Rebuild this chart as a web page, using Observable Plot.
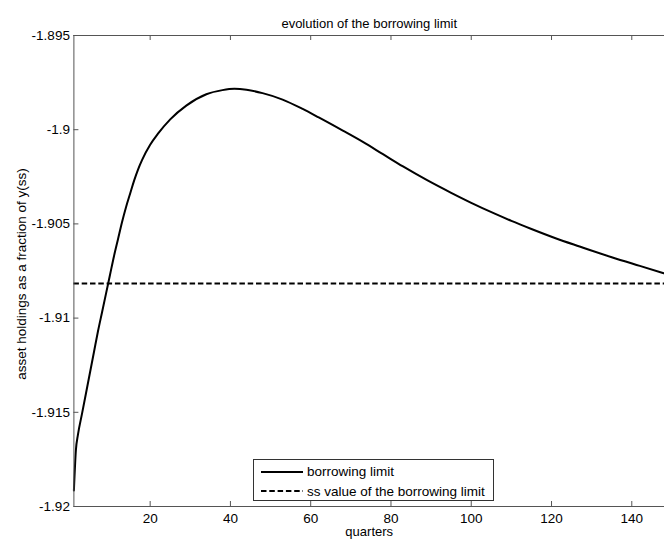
<!DOCTYPE html>
<html><head><meta charset="utf-8">
<script src="https://cdn.jsdelivr.net/npm/d3@7"></script>
<script src="https://cdn.jsdelivr.net/npm/@observablehq/plot@0.6"></script>
<style>
body{margin:0;background:#fff;}
#wrap{position:relative;width:664px;height:542px;font-family:"Liberation Sans",Arial,sans-serif;overflow:hidden;}
#legend{position:absolute;left:253px;top:459px;width:239px;height:40px;border:1px solid #333;background:#fff;}
#legend .row{position:absolute;left:0;height:18px;display:flex;align-items:center;font-size:13.5px;color:#000;white-space:nowrap;}
#legend svg{display:block;margin-left:7px;margin-right:4px;}
</style></head><body><div id="wrap"></div>
<script>
const quarters = [1, 1.5, 2, 3, 4, 5, 6, 7, 8, 9, 10, 11, 12, 13, 14, 15, 16, 17, 18, 20, 22, 25, 29, 34, 38, 41, 44, 48, 53, 58, 62, 68, 73, 78, 83, 89, 95, 100, 106, 110, 115, 121, 127, 135, 142, 148];
const borrowingLimit = [-1.91915, -1.9170, -1.9162, -1.9151, -1.9140, -1.9129, -1.9118, -1.9107, -1.9097, -1.9087, -1.9077, -1.9067, -1.9058, -1.9049, -1.9041, -1.9034, -1.9027, -1.9021, -1.9016, -1.9008, -1.9002, -1.89945, -1.89872, -1.89812, -1.8979, -1.89783, -1.89788, -1.89806, -1.8984, -1.8989, -1.89935, -1.90005, -1.90065, -1.9013, -1.90195, -1.90268, -1.90335, -1.90388, -1.90447, -1.90484, -1.90527, -1.90576, -1.9062, -1.90677, -1.90723, -1.90762];
const ssValue = -1.90816;
const xTicks = [20, 40, 60, 80, 100, 120, 140];
const xTickLabels = ["20", "40", "60", "80", "100", "120", "140"];
const yTicks = [-1.92, -1.915, -1.91, -1.905, -1.9, -1.895];
const yTickLabels = ["-1.92", "-1.915", "-1.91", "-1.905", "-1.9", "-1.895"];
const titleText = "evolution of the borrowing limit";
const xLabel = "quarters";
const yLabel = "asset holdings as a fraction of y(ss)";
const legendLabels = ["borrowing limit", "ss value of the borrowing limit"];

const W = 664, H = 542, mL = 73.4, mT = 35, mB = 36, mR = 0;
const pw = W - mL - mR, ph = H - mT - mB;
const font = "'Liberation Sans', Arial, sans-serif";
const data = quarters.map((q, i) => ({q, v: borrowingLimit[i]}));
const axisColor = "#555";

const chart = Plot.plot({
  width: W, height: H,
  marginLeft: mL, marginTop: mT, marginBottom: mB, marginRight: mR,
  style: {fontFamily: font, fontSize: "13px", color: "#000", background: "#fff", overflow: "visible"},
  x: {domain: [1, 148.15]},
  y: {domain: [-1.92, -1.895]},
  marks: [
    Plot.axisX(xTicks, {tickSize: 0, tickPadding: 7, fill: "#000", fontSize: 13.5, tickFormat: d => xTickLabels[xTicks.indexOf(d)], label: null}),
    Plot.axisY(yTicks, {tickSize: 0, tickPadding: 4, fill: "#000", fontSize: 13.5, tickFormat: d => yTickLabels[yTicks.indexOf(d)], label: null}),
    Plot.tickX(xTicks, {x: d => d, stroke: axisColor, insetTop: ph - 5}),
    Plot.tickX(xTicks, {x: d => d, stroke: axisColor, insetBottom: ph - 5}),
    Plot.tickY(yTicks, {y: d => d, stroke: axisColor, insetRight: pw - 5}),
    Plot.ruleY([ssValue], {stroke: "#000", strokeWidth: 2, strokeDasharray: "5.5,2.8"}),
    Plot.line(data, {x: "q", y: "v", stroke: "#000", strokeWidth: 2, curve: "monotone-x"}),
    Plot.ruleY([-1.92], {stroke: axisColor}),
    Plot.ruleY([-1.895], {stroke: axisColor}),
    Plot.ruleX([1], {stroke: axisColor}),
    Plot.text([titleText], {text: d => d, frameAnchor: "top", dy: -16.5, fontSize: 13, fill: "#000"}),
    Plot.text([xLabel], {text: d => d, frameAnchor: "bottom", dy: 29.5, fontSize: 13, fill: "#000"}),
    Plot.text([yLabel], {text: d => d, frameAnchor: "left", textAnchor: "middle", rotate: -90, dx: -52, dy: 3, fontSize: 13.5, fill: "#000"})
  ]
});
const wrap = document.getElementById("wrap");
wrap.appendChild(chart);

const legend = document.createElement("div");
legend.id = "legend";
legendLabels.forEach((lab, i) => {
  const row = document.createElement("div");
  row.className = "row";
  row.style.top = (i === 0 ? 2.5 : 22) + "px";
  const s = d3.create("svg").attr("width", 42).attr("height", 6);
  s.append("line").attr("x1", 0).attr("x2", 42).attr("y1", 3).attr("y2", 3)
    .attr("stroke", "#000").attr("stroke-width", 2)
    .attr("stroke-dasharray", i === 0 ? null : "5.5,2.8");
  row.appendChild(s.node());
  const t = document.createElement("span");
  t.textContent = lab;
  row.appendChild(t);
  legend.appendChild(row);
});
wrap.appendChild(legend);
</script>
</body></html>
